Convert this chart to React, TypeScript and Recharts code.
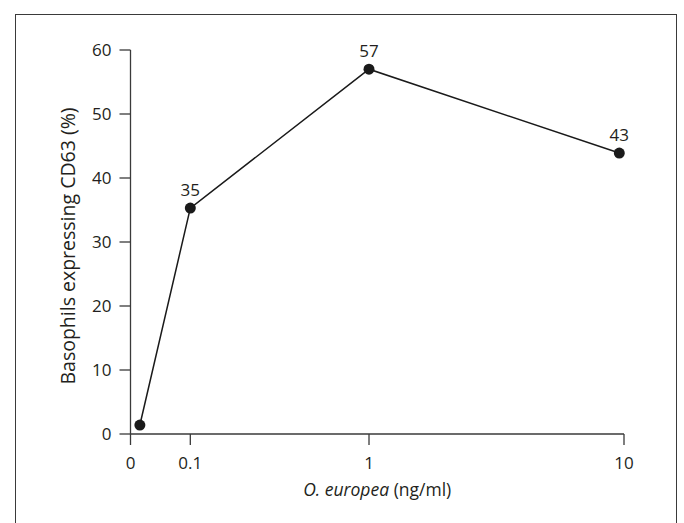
import React from "react";
import { LineChart, Line, XAxis, YAxis, LabelList, Label } from "recharts";

// ---- data ----
const concentrations = [0.0125, 0.1, 1, 9.6]; // O. europea (ng/ml)
const basophilsPct = [1.4, 35.3, 57, 43.9]; // % basophils expressing CD63
const pointLabels: (string | null)[] = [null, "35", "57", "43"];
const xTickValues = [0, 0.1, 1, 10];
const xTickLabels = ["0", "0.1", "1", "10"];
const yTicks = [0, 10, 20, 30, 40, 50, 60];

// axis drawn on a shifted-log scale (0 included)
const LOG_SHIFT = 0.15;
const toPos = (c: number) => Math.log10(c + LOG_SHIFT);

const data = concentrations.map((c, i) => ({
  pos: toPos(c),
  value: basophilsPct[i],
  label: pointLabels[i],
}));
const xTickPositions = xTickValues.map(toPos);

const FONT = "'Open Sans', 'Noto Sans', sans-serif";
const INK = "#231f20";
const AXIS = "#3a3a3a";

const formatX = (v: number) => {
  let best = 0;
  xTickPositions.forEach((p, i) => {
    if (Math.abs(p - v) < Math.abs(xTickPositions[best] - v)) best = i;
  });
  return xTickLabels[best];
};

const XTitle = (props: any) => {
  const vb = props.viewBox || {};
  const cx = vb.x + vb.width / 2;
  return (
    <text x={cx} y={vb.y + 62} textAnchor="middle" fill={INK} fontSize={17.5} fontFamily={FONT}>
      <tspan fontStyle="italic">O. europea</tspan>
      <tspan> (ng/ml)</tspan>
    </text>
  );
};

const YTitle = (props: any) => {
  const vb = props.viewBox || {};
  const cx = vb.x + 17;
  const cy = vb.y + vb.height / 2 + 4;
  return (
    <text
      x={cx}
      y={cy}
      textAnchor="middle"
      dominantBaseline="central"
      fill={INK}
      fontSize={19.5}
      fontFamily={FONT}
      transform={`rotate(-90, ${cx}, ${cy})`}
    >
      Basophils expressing CD63 (%)
    </text>
  );
};

export default function App() {
  return (
    <div
      style={{
        position: "fixed",
        left: 0,
        top: 0,
        width: 684,
        height: 523,
        overflow: "hidden",
        background: "#fff",
      }}
    >
      <div
        style={{
          position: "absolute",
          left: 15,
          top: 14,
          width: 662,
          height: 540,
          border: `1.5px solid ${AXIS}`,
          borderBottom: "none",
          boxSizing: "border-box",
        }}
      />
      <div style={{ position: "absolute", left: 0, top: 0 }}>
        <LineChart
          width={684}
          height={523}
          data={data}
          margin={{ top: 50, right: 60, bottom: 59, left: 50.5 }}
        >
          <XAxis
            type="number"
            dataKey="pos"
            domain={[toPos(0), toPos(10)]}
            ticks={xTickPositions}
            tickFormatter={formatX}
            height={30}
            tickSize={11}
            tickMargin={12}
            interval={0}
            axisLine={{ stroke: AXIS, strokeWidth: 1.3 }}
            tickLine={{ stroke: AXIS, strokeWidth: 1.3 }}
            tick={{ fill: INK, fontSize: 17, fontFamily: FONT }}
          >
            <Label content={<XTitle />} />
          </XAxis>
          <YAxis
            type="number"
            domain={[0, 60]}
            ticks={yTicks}
            width={80}
            tickSize={11}
            tickMargin={8}
            interval={0}
            axisLine={{ stroke: AXIS, strokeWidth: 1.3 }}
            tickLine={{ stroke: AXIS, strokeWidth: 1.3 }}
            tick={{ fill: INK, fontSize: 17, fontFamily: FONT }}
          >
            <Label content={<YTitle />} />
          </YAxis>
          <Line
            type="linear"
            dataKey="value"
            stroke="#1a1a1a"
            strokeWidth={1.5}
            dot={{ r: 5.5, fill: "#1a1a1a", stroke: "#1a1a1a", strokeWidth: 0 }}
            activeDot={false}
            isAnimationActive={false}
          >
            <LabelList
              dataKey="label"
              position="top"
              offset={12}
              fill={INK}
              fontSize={17}
              fontFamily={FONT}
            />
          </Line>
        </LineChart>
      </div>
    </div>
  );
}
